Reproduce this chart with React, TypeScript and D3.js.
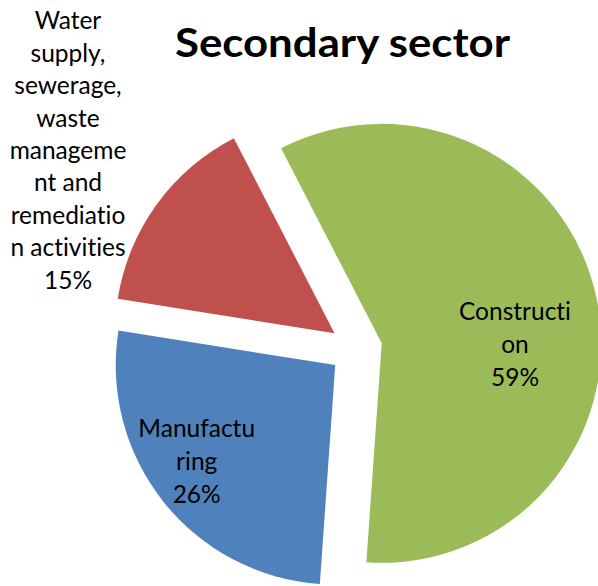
import React from "react";
import * as d3 from "d3";

const categories = ["Construction", "Manufacturing", "Water supply, sewerage, waste management and remediation activities"];
const values = [58.7, 26.4, 14.9];
const colors = ["#9BBB59", "#4F81BD", "#C0504D"];
const labelLines = [
  ["Constructi", "on"],
  ["Manufactu", "ring"],
  ["Water", "supply,", "sewerage,", "waste", "manageme", "nt and", "remediatio", "n activities"],
];
const title = "Secondary sector";

const W = 598;
const H = 586;
const cx = 355.9;
const cy = 348.7;
const R = 219.5;
const explode = 26.4;
const startDeg = -27.3;
// label centre x and first baseline y
const labelPos = [
  { x: 515, y: 320 },
  { x: 196.7, y: 436.7 },
  { x: 68, y: 29.3 },
];
const lineH = [33, 33.3, 32.4];
const fontFamily = "Lato, 'Open Sans', sans-serif";

export default function App() {
  const total = d3.sum(values);
  const pie = d3
    .pie<number>()
    .sort(null)
    .startAngle((startDeg * Math.PI) / 180)
    .endAngle((startDeg * Math.PI) / 180 + 2 * Math.PI)
    .value((d) => d);
  const arcs = pie(values);
  const arc = d3.arc<d3.PieArcDatum<number>>().innerRadius(0).outerRadius(R);

  return (
    <svg
      width={W}
      height={H}
      style={{ position: "absolute", left: 0, top: 0, background: "#fff" }}
    >
      <g transform={`translate(${cx},${cy})`}>
        {arcs.map((a, i) => {
          const mid = (a.startAngle + a.endAngle) / 2;
          const dx = Math.sin(mid) * explode;
          const dy = -Math.cos(mid) * explode;
          return (
            <path
              key={categories[i]}
              d={arc(a) || ""}
              fill={colors[i]}
              transform={`translate(${dx},${dy})`}
            />
          );
        })}
      </g>
      <text
        x={342.5}
        y={57}
        textAnchor="middle"
        fontFamily={fontFamily}
        fontWeight="bold"
        fontSize={41}
        textLength={335}
        lengthAdjust="spacingAndGlyphs"
        fill="#000"
      >
        {title}
      </text>
      {arcs.map((a, i) => {
        const lines = [...labelLines[i], `${Math.round((values[i] / total) * 100)}%`];
        return (
          <text
            key={"l" + i}
            textAnchor="middle"
            fontFamily={fontFamily}
            fontSize={24.5}
            style={{ fontVariantLigatures: "none" }}
            fill="#000"
          >
            {lines.map((t, j) => (
              <tspan key={j} x={labelPos[i].x} y={labelPos[i].y + j * lineH[i]}>
                {t}
              </tspan>
            ))}
          </text>
        );
      })}
    </svg>
  );
}
